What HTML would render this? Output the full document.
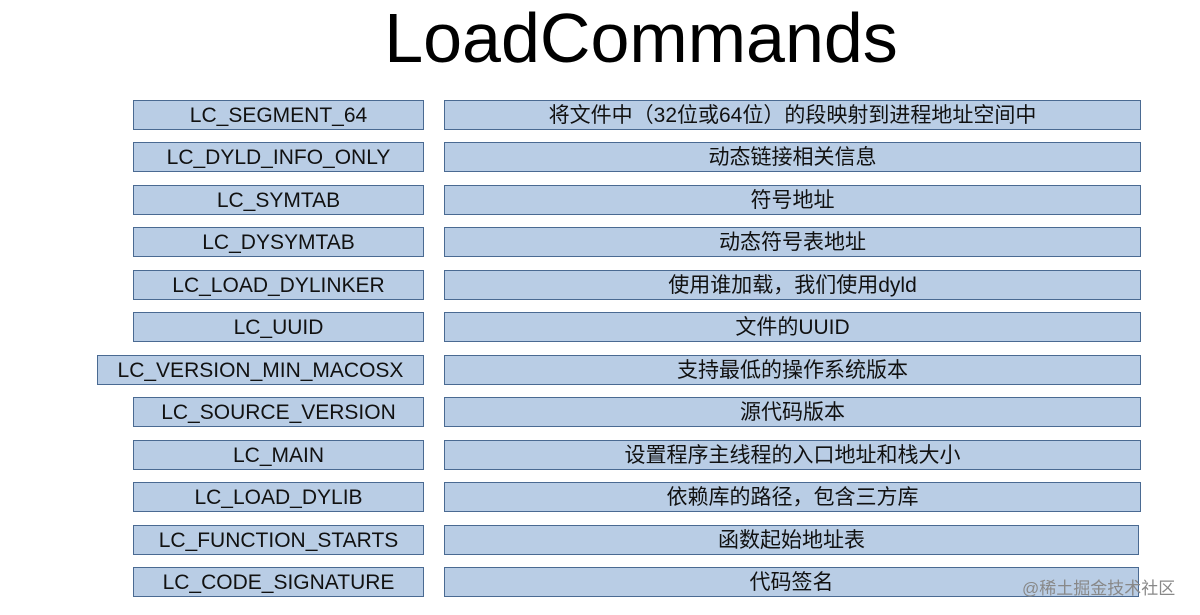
<!DOCTYPE html>
<html><head><meta charset="utf-8"><style>
body{margin:0;width:1200px;height:615px;background:#fff;position:relative;overflow:hidden;font-family:"Liberation Sans","Noto Sans CJK SC",sans-serif}
.t{position:absolute;left:0;width:1282px;top:-2px;text-align:center;font-size:70px;color:#000}
.b{position:absolute;box-sizing:border-box;height:30px;background:#b9cde5;border:1.5px solid #4a6a92;text-align:center;line-height:29px;font-size:21px;color:#111}
.wm{position:absolute;left:1022px;top:574px;font-size:17px;color:#888}
</style></head><body>
<div class="t">LoadCommands</div>
<div class="b" style="left:133px;top:100px;width:291px">LC_SEGMENT_64</div><div class="b" style="left:444px;top:100px;width:697px">将文件中（32位或64位）的段映射到进程地址空间中</div>
<div class="b" style="left:133px;top:142px;width:291px">LC_DYLD_INFO_ONLY</div><div class="b" style="left:444px;top:142px;width:697px">动态链接相关信息</div>
<div class="b" style="left:133px;top:185px;width:291px">LC_SYMTAB</div><div class="b" style="left:444px;top:185px;width:697px">符号地址</div>
<div class="b" style="left:133px;top:227px;width:291px">LC_DYSYMTAB</div><div class="b" style="left:444px;top:227px;width:697px">动态符号表地址</div>
<div class="b" style="left:133px;top:270px;width:291px">LC_LOAD_DYLINKER</div><div class="b" style="left:444px;top:270px;width:697px">使用谁加载，我们使用dyld</div>
<div class="b" style="left:133px;top:312px;width:291px">LC_UUID</div><div class="b" style="left:444px;top:312px;width:697px">文件的UUID</div>
<div class="b" style="left:97px;top:355px;width:327px">LC_VERSION_MIN_MACOSX</div><div class="b" style="left:444px;top:355px;width:697px">支持最低的操作系统版本</div>
<div class="b" style="left:133px;top:397px;width:291px">LC_SOURCE_VERSION</div><div class="b" style="left:444px;top:397px;width:697px">源代码版本</div>
<div class="b" style="left:133px;top:440px;width:291px">LC_MAIN</div><div class="b" style="left:444px;top:440px;width:697px">设置程序主线程的入口地址和栈大小</div>
<div class="b" style="left:133px;top:482px;width:291px">LC_LOAD_DYLIB</div><div class="b" style="left:444px;top:482px;width:697px">依赖库的路径，包含三方库</div>
<div class="b" style="left:133px;top:525px;width:291px">LC_FUNCTION_STARTS</div><div class="b" style="left:444px;top:525px;width:695px">函数起始地址表</div>
<div class="b" style="left:133px;top:567px;width:291px">LC_CODE_SIGNATURE</div><div class="b" style="left:444px;top:567px;width:695px">代码签名</div>
<div class="wm">@稀土掘金技术社区</div>
</body></html>
